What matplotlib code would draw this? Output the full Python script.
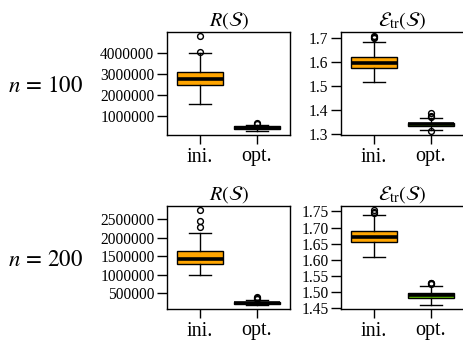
import matplotlib
matplotlib.use("Agg")
import matplotlib.pyplot as plt
from matplotlib.ticker import FuncFormatter, FixedLocator

plt.rcParams['font.family'] = ['Liberation Serif', 'DejaVu Serif']
plt.rcParams['mathtext.fontset'] = 'stix'

W, H = 463, 342

groups = ["ini.", "opt."]
row_labels = [r"$n\,=\,100$", r"$n\,=\,200$"]
titles = [r"$R(\mathcal{S})$", r"$\mathcal{E}_{\mathrm{tr}}(\mathcal{S})$"]

# ---- n = 100, R(S) ----
r100_q1 = [2460000, 390000]
r100_med = [2740000, 450000]
r100_q3 = [3080000, 530000]
r100_lo = [1600000, 300000]
r100_hi = [4000000, 610000]
r100_fl = [[4050000, 4800000], [650000, 690000]]
r100_ticks = [1000000, 2000000, 3000000, 4000000]

# ---- n = 100, E_tr(S) ----
e100_q1 = [1.575, 1.333]
e100_med = [1.598, 1.340]
e100_q3 = [1.623, 1.347]
e100_lo = [1.517, 1.318]
e100_hi = [1.686, 1.366]
e100_fl = [[1.700, 1.705, 1.711], [1.312, 1.370, 1.375, 1.389]]
e100_ticks = [1.3, 1.4, 1.5, 1.6, 1.7]

# ---- n = 200, R(S) ----
r200_q1 = [1296000, 210000]
r200_med = [1430000, 240000]
r200_q3 = [1650000, 280000]
r200_lo = [990000, 183000]
r200_hi = [2130000, 330000]
r200_fl = [[2280000, 2455000, 2757000], [360000, 380000, 400000]]
r200_ticks = [500000, 1000000, 1500000, 2000000, 2500000]

# ---- n = 200, E_tr(S) ----
e200_q1 = [1.656, 1.483]
e200_med = [1.670, 1.490]
e200_q3 = [1.690, 1.498]
e200_lo = [1.608, 1.460]
e200_hi = [1.740, 1.520]
e200_fl = [[1.745, 1.748, 1.755], [1.525, 1.528, 1.530]]
e200_ticks = [1.45, 1.50, 1.55, 1.60, 1.65, 1.70, 1.75]

box_colors = ["#FFA500", "#66CD00"]

fig = plt.figure(figsize=(W / 100, H / 100), dpi=100)
fig.patch.set_facecolor("white")


def make_ax(x0, y0, x1, y1):
    return fig.add_axes([x0 / W, 1 - y1 / H, (x1 - x0) / W, (y1 - y0) / H])


def draw(ax, q1, med, q3, lo, hi, fl, ticks, fmt, title):
    stats = []
    for i in range(2):
        stats.append(dict(q1=q1[i], med=med[i], q3=q3[i], whislo=lo[i],
                          whishi=hi[i], fliers=fl[i], label=groups[i]))
    bp = ax.bxp(stats, positions=[1, 2], widths=0.8, capwidths=0.4,
                patch_artist=True,
                boxprops=dict(edgecolor="black", linewidth=1.0),
                medianprops=dict(color="black", linewidth=2.6, solid_capstyle="butt"),
                whiskerprops=dict(color="black", linewidth=1.0),
                capprops=dict(color="black", linewidth=1.0),
                flierprops=dict(marker="o", markerfacecolor="none",
                                markeredgecolor="black", markersize=4.2,
                                markeredgewidth=1.0))
    for patch, c in zip(bp["boxes"], box_colors):
        patch.set_facecolor(c)
    allv = [v for i in range(2) for v in [lo[i], hi[i]] + list(fl[i])]
    mn, mx = min(allv), max(allv)
    r = mx - mn
    ax.set_ylim(mn - 0.04 * r, mx + 0.04 * r)
    ax.set_xlim(0.42, 2.58)
    ax.yaxis.set_major_locator(FixedLocator(ticks))
    ax.yaxis.set_major_formatter(FuncFormatter(fmt))
    ax.set_xticks([1, 2])
    ax.set_xticklabels(groups)
    ax.tick_params(axis="y", length=7, width=1.0, pad=2, labelsize=11.2)
    ax.tick_params(axis="x", length=6.5, width=1.0, pad=2.5, labelsize=14.5)
    for s in ax.spines.values():
        s.set_linewidth(1.0)
        s.set_color("black")
    ax.set_title(title, fontsize=14.5, pad=5)


fmt_int = lambda v, p: "%d" % round(v)
fmt_1 = lambda v, p: "%.1f" % v
fmt_2 = lambda v, p: "%.2f" % v

ax1 = make_ax(167, 32, 290, 135)
draw(ax1, r100_q1, r100_med, r100_q3, r100_lo, r100_hi, r100_fl, r100_ticks, fmt_int, titles[0])
ax2 = make_ax(341, 32, 464, 135)
draw(ax2, e100_q1, e100_med, e100_q3, e100_lo, e100_hi, e100_fl, e100_ticks, fmt_1, titles[1])
ax3 = make_ax(167, 206, 290, 309)
draw(ax3, r200_q1, r200_med, r200_q3, r200_lo, r200_hi, r200_fl, r200_ticks, fmt_int, titles[0])
ax4 = make_ax(341, 206, 464, 309)
draw(ax4, e200_q1, e200_med, e200_q3, e200_lo, e200_hi, e200_fl, e200_ticks, fmt_2, titles[1])

fig.text(8 / W, 1 - 87 / H, row_labels[0], fontsize=16.5, ha="left", va="center")
fig.text(8 / W, 1 - 261 / H, row_labels[1], fontsize=16.5, ha="left", va="center")

fig.savefig("out.png", dpi=100, facecolor="white")
